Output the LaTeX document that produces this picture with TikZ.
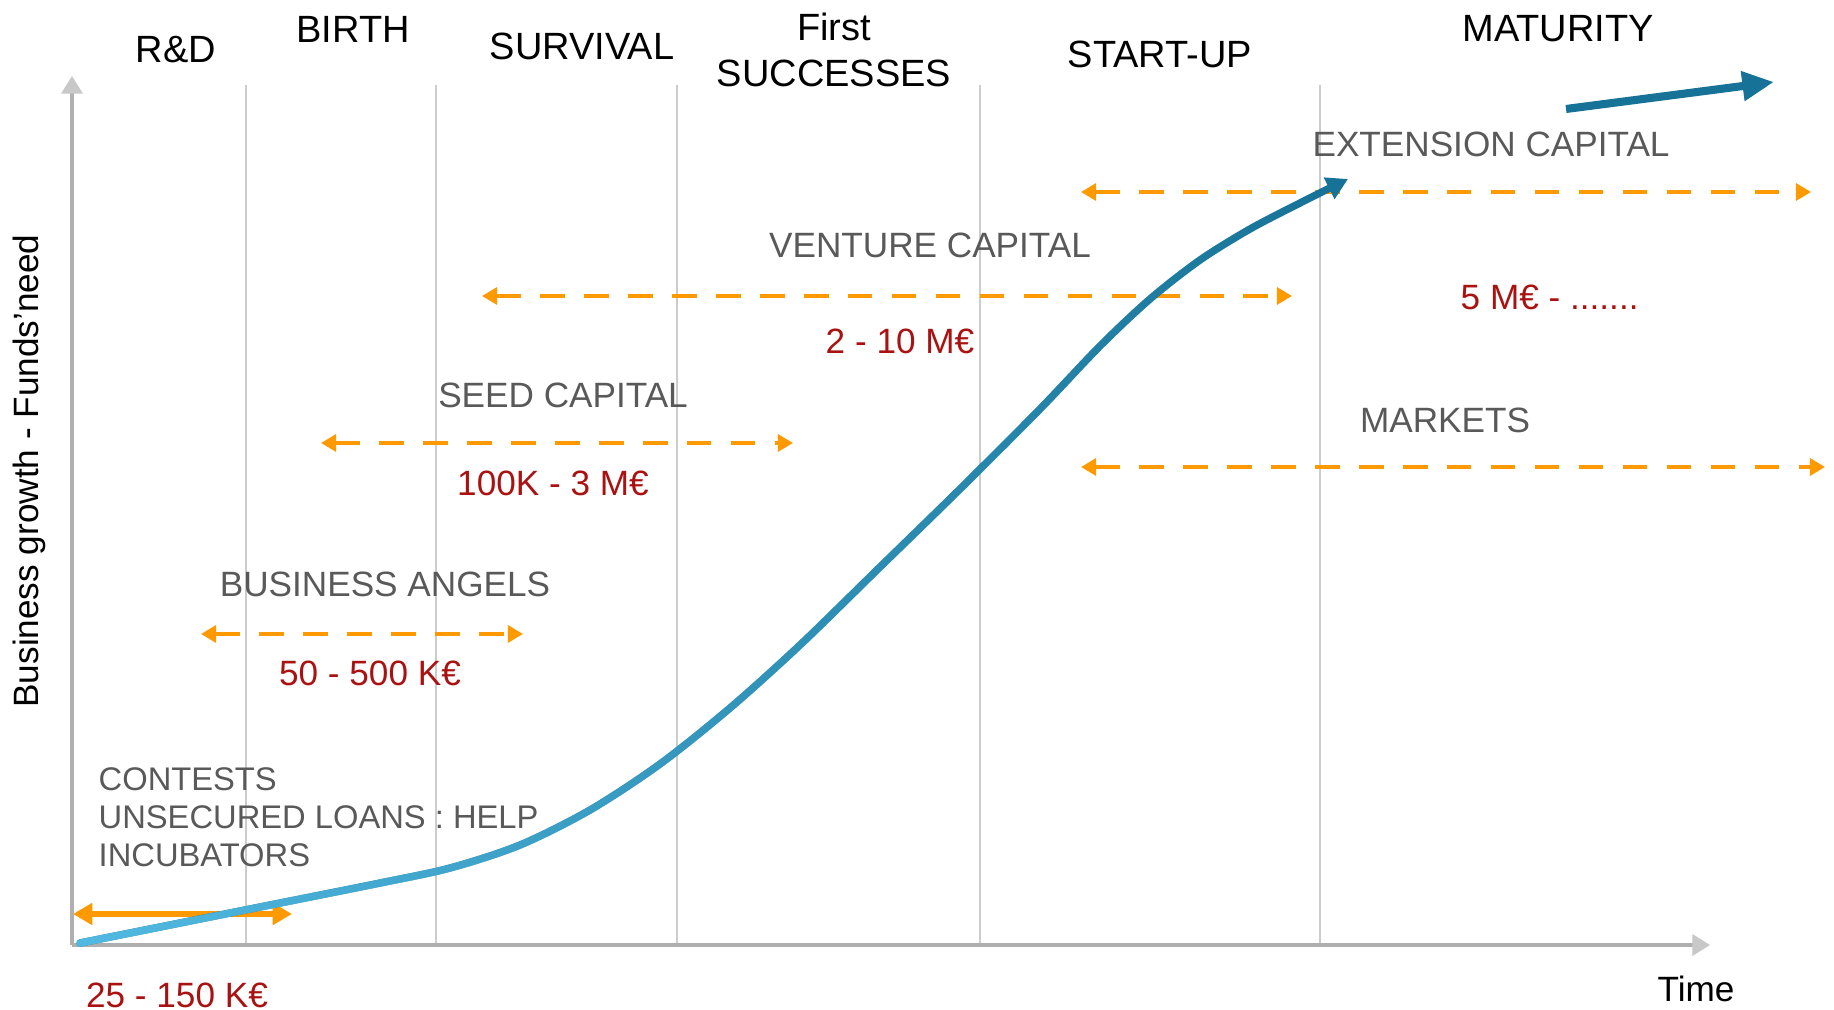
\documentclass[tikz,border=0pt]{standalone}
\usepackage{fontspec}
\setmainfont{Liberation Sans}
\usetikzlibrary{arrows.meta,fadings}

\definecolor{labelgray}{RGB}{89,89,89}
\definecolor{amountred}{RGB}{170,18,18}
\definecolor{fundorange}{RGB}{255,153,0}
\definecolor{gridgray}{RGB}{204,204,204}
\definecolor{axisgray}{RGB}{175,175,175}
\definecolor{axistip}{RGB}{200,200,200}
\definecolor{curvelight}{RGB}{82,186,226}
\definecolor{curvedark}{RGB}{22,114,150}

\newcommand\phasefont{\fontsize{10.8}{13.3}\selectfont}
\newcommand\fundfont{\fontsize{10}{12}\selectfont}
\newcommand\growthpts{(80,943) (180,923) (280,903) (380,883) (450,868) (520,845) (590,810)
  (660,764) (730,708) (800,645) (880,567) (960,489) (1040,409) (1100,346) (1150,299)
  (1200,260) (1250,229) (1300,203) (1348,179)}

\tikzfading[name=fadegrowth, left color=transparent!0, right color=transparent!100]

\begin{document}
\begin{tikzpicture}[x=0.01cm,y=-0.01cm,
    gridline/.style={draw=gridgray, line width=0.7pt},
    axisline/.style={draw=axisgray, line width=0.9pt, -{Triangle[length=5pt, width=6pt, color=axistip]}},
    fundrange/.style={draw=fundorange, line width=1.4pt, dash pattern=on 7pt off 5.5pt,
      {Triangle[length=4.3pt, width=4.8pt]}-{Triangle[length=4.3pt, width=4.8pt]}},
    growth/.style={line width=2.1pt, line cap=round}]

        \useasboundingbox (0,0) rectangle (1834,1010);

        % phase boundaries
        \foreach \px in {246,436,677,980,1320}
          \draw[gridline] (\px,85) -- (\px,943);

        % axes
        \coordinate (origin) at (72,945);
        \coordinate (ytip)   at (72,76);
        \coordinate (xtip)   at (1710,945);
        \draw[axisline] (origin) -- (ytip);
        \draw[axisline] (origin) -- (xtip);

        \node[rotate=90, font=\fundfont, inner sep=0pt] (ylabel) at (29,471) {Business growth - Funds'need};
        \node[font=\fundfont, inner sep=0pt] (xlabel) at (1696,989) {Time};

        \begin{scope}[every node/.style={font=\phasefont, inner sep=0pt}]
          \node (rd)       at (176,50)  {R\&D};
          \node (birth)    at (353,29)  {BIRTH};
          \node (survival) at (582,46)  {SURVIVAL};
          \node[align=center] (success) at (834,50) {First\\SUCCESSES};
          \node (startup)  at (1160,54) {START-UP};
          \node (maturity) at (1558,29) {MATURITY};
        \end{scope}

        \begin{scope}[every node/.style={font=\fundfont, text=labelgray, inner sep=0pt}]
          \node (extension) at (1491,144) {EXTENSION CAPITAL};
          \node (venture)   at (930,245)  {VENTURE CAPITAL};
          \node (seed)      at (563,395)  {SEED CAPITAL};
          \node (markets)   at (1445,420) {MARKETS};
          \node (angels)    at (385,584)  {BUSINESS ANGELS};
          \node[anchor=west, align=left, font=\fontsize{9.3}{10.8}\selectfont] (contests) at (98,817)
            {CONTESTS\\UNSECURED LOANS : HELP\\INCUBATORS};
        \end{scope}

        \begin{scope}[every node/.style={font=\fundfont, text=amountred, inner sep=0pt}]
          \node (ventureamt) at (900,341) {2 - 10 M€};
          \node (seedamt)    at (553,483) {100K - 3 M€};
          \node (angelsamt)  at (370,673) {50 - 500 K€};
          \node[anchor=west] (extamt) at (1460,297) {5 M€ - .......};
          \node (helpamt)    at (177,995) {25 - 150 K€};
        \end{scope}

        % funding ranges
        \coordinate (extL)     at (1081,192);
        \coordinate (extR)     at (1811,192);
        \coordinate (ventureL) at (482,296);
        \coordinate (ventureR) at (1292,296);
        \coordinate (seedL)    at (321,443);
        \coordinate (seedR)    at (793,443);
        \coordinate (marketsL) at (1081,467);
        \coordinate (marketsR) at (1825,467);
        \coordinate (angelsL)  at (201,634);
        \coordinate (angelsR)  at (523,634);
        \coordinate (helpL)    at (73,914);
        \coordinate (helpR)    at (292,914);

        \draw[fundrange] (extL) -- (extR);
        \draw[fundrange] (ventureL) -- (ventureR);
        \draw[fundrange] (seedL) -- (seedR);
        \draw[fundrange] (marketsL) -- (marketsR);
        \draw[fundrange] (angelsL) -- (angelsR);
        \draw[fundorange, line width=1.7pt, {Triangle[length=5.5pt, width=6pt]}-{Triangle[length=5.5pt, width=6pt]}] (helpL) -- (helpR);

        % growth curve, light to dark
        \draw[growth, curvedark, -{Triangle[length=6pt, width=6.5pt]}]
          plot[smooth, tension=0.5] coordinates {\growthpts};
        \draw[growth, curvelight, path fading=fadegrowth, shorten >=6pt]
          plot[smooth, tension=0.5] coordinates {\growthpts};

        \coordinate (matL) at (1566,109);
        \coordinate (matR) at (1774,82);
        \draw[curvedark, line width=2.3pt, -{Triangle[length=9pt, width=8pt]}] (matL) -- (matR);

      \end{tikzpicture}
\end{document}
